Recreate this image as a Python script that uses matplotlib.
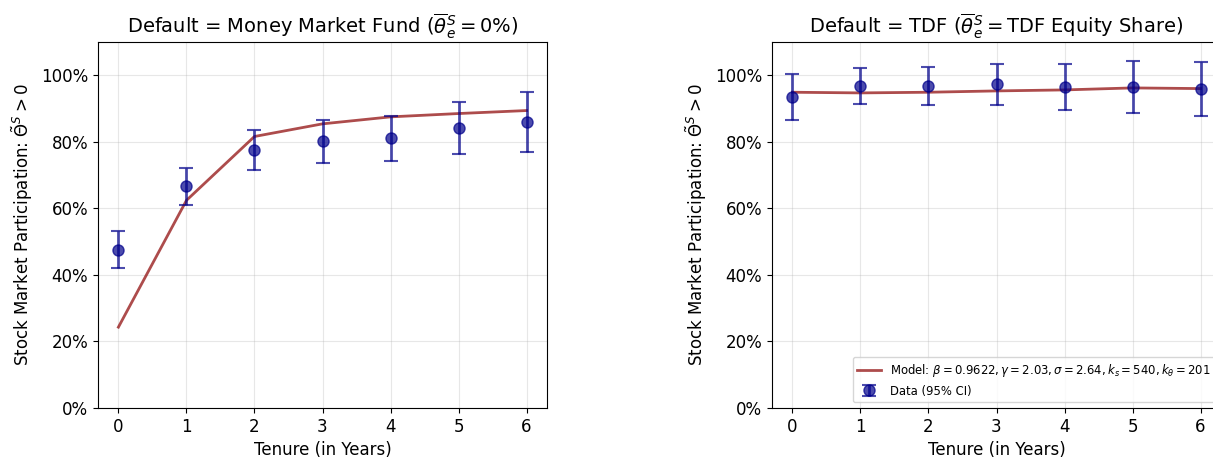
import matplotlib.pyplot as plt
import numpy as np
from matplotlib.ticker import PercentFormatter

tenure = [0, 1, 2, 3, 4, 5, 6]

# Money market fund default
mmf_data = [0.476, 0.666, 0.775, 0.801, 0.810, 0.842, 0.861]
mmf_lo = [0.420, 0.610, 0.716, 0.737, 0.743, 0.763, 0.770]
mmf_hi = [0.531, 0.722, 0.835, 0.866, 0.878, 0.920, 0.951]
mmf_model = [0.243, 0.624, 0.816, 0.854, 0.875, 0.885, 0.894]

# TDF default
tdf_data = [0.936, 0.967, 0.968, 0.973, 0.965, 0.965, 0.960]
tdf_lo = [0.867, 0.913, 0.911, 0.910, 0.896, 0.888, 0.879]
tdf_hi = [1.005, 1.022, 1.026, 1.034, 1.034, 1.043, 1.040]
tdf_model = [0.949, 0.947, 0.949, 0.953, 0.956, 0.962, 0.960]

titles = [
    r"Default = Money Market Fund ($\overline{\theta}^S_e = 0\%$)",
    r"Default = TDF ($\overline{\theta}^S_e = $TDF Equity Share)",
]
model_label = (r"Model: $\beta = 0.9622, \gamma = 2.03, \sigma = 2.64, "
               r"k_s = 540, k_\theta = 201$")

W, H = 1213, 458
fig = plt.figure(figsize=(W / 100, H / 100), dpi=100)
ax_left = fig.add_axes([98 / W, 50 / H, 449 / W, 366 / H])
ax_right = fig.add_axes([772 / W, 50 / H, 449 / W, 366 / H])

panels = [
    (ax_left, mmf_data, mmf_lo, mmf_hi, mmf_model),
    (ax_right, tdf_data, tdf_lo, tdf_hi, tdf_model),
]

for i, (ax, data, lo, hi, model) in enumerate(panels):
    data = np.array(data)
    yerr = [data - np.array(lo), np.array(hi) - data]
    ax.plot(tenure, model, color="darkred", lw=2, alpha=0.7,
            label=model_label, zorder=3)
    ax.errorbar(tenure, data, yerr=yerr, fmt="o", color="darkblue",
                alpha=0.7, markersize=8, capsize=5, elinewidth=2,
                capthick=1.5, label="Data (95% CI)", zorder=4)
    ax.set_ylim(0, 1.1)
    ax.set_xlim(-0.3, 6.3)
    ax.set_yticks([0, 0.2, 0.4, 0.6, 0.8, 1.0])
    ax.set_xticks(tenure)
    ax.yaxis.set_major_formatter(PercentFormatter(1.0, decimals=0))
    ax.grid(True, alpha=0.3)
    ax.tick_params(labelsize=12)
    ax.set_xlabel("Tenure (in Years)", fontsize=12)
    ax.set_ylabel(r"Stock Market Participation: $\tilde{\Theta}^S > 0$",
                  fontsize=12)
    ax.set_title(titles[i], fontsize=14)

ax_right.legend(loc="lower right", fontsize=8.4)

fig.savefig("out.png", dpi=100)
